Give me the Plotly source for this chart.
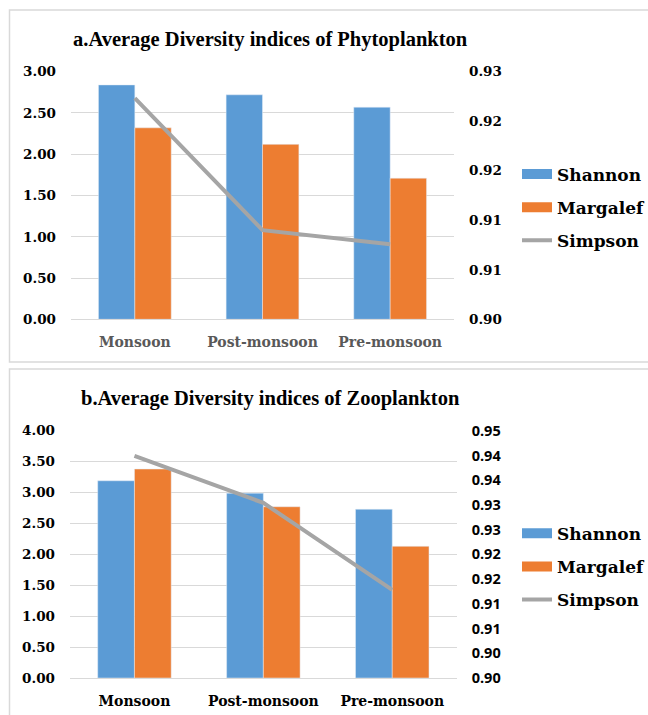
import plotly.graph_objects as go

seasons = ["Monsoon", "Post-monsoon", "Pre-monsoon"]

phyto_shannon = [2.84, 2.72, 2.57]
phyto_margalef = [2.32, 2.12, 1.71]
phyto_simpson = [0.9268, 0.9108, 0.9091]

zoo_shannon = [3.19, 2.99, 2.73]
zoo_margalef = [3.38, 2.77, 2.13]
zoo_simpson = [0.9449, 0.9354, 0.9178]

phyto_simpson_tickvals = [0.900, 0.906, 0.912, 0.918, 0.924, 0.930]
phyto_simpson_ticktext = ["0.90", "0.91", "0.91", "0.92", "0.92", "0.93"]
zoo_simpson_tickvals = [0.900, 0.905, 0.910, 0.915, 0.920, 0.925, 0.930, 0.935, 0.940, 0.945, 0.950]
zoo_simpson_ticktext = ["0.90", "0.90", "0.91", "0.91", "0.92", "0.92", "0.93", "0.93", "0.94", "0.94", "0.95"]

titles = ["a.Average Diversity indices of Phytoplankton", "b.Average Diversity indices of Zooplankton"]

BLUE = "#5B9BD5"
ORANGE = "#ED7D31"
GREY = "#A5A5A5"
GRID = "#D9D9D9"

W, H = 648, 715
SERIF = "DejaVu Serif"


def px(x):
    return x / W


def py(y):
    return 1 - y / H


fig = go.Figure()

panels = [
    dict(sh=phyto_shannon, mg=phyto_margalef, si=phyto_simpson, x="x", y="y", y2="y2", legend="legend"),
    dict(sh=zoo_shannon, mg=zoo_margalef, si=zoo_simpson, x="x2", y="y3", y2="y4", legend="legend2"),
]

for i, p in enumerate(panels):
    fig.add_trace(go.Bar(x=seasons, y=p["sh"], name="Shannon", marker_color=BLUE,
                         xaxis=p["x"], yaxis=p["y"], showlegend=False, offsetgroup="s"))
    fig.add_trace(go.Bar(x=seasons, y=p["mg"], name="Margalef", marker_color=ORANGE,
                         xaxis=p["x"], yaxis=p["y"], showlegend=False, offsetgroup="m"))
    fig.add_trace(go.Scatter(x=seasons, y=p["si"], name="Simpson", mode="lines",
                             line=dict(color=GREY, width=4), xaxis=p["x"], yaxis=p["y2"],
                             showlegend=False))
    # legend entries (wide swatches like the original)
    for name, col, w in [("Shannon", BLUE, 12), ("Margalef", ORANGE, 12), ("Simpson", GREY, 4)]:
        fig.add_trace(go.Scatter(x=[None], y=[None], name=name, mode="lines",
                                 line=dict(color=col, width=w), xaxis=p["x"], yaxis=p["y"],
                                 legend=p["legend"], legendgroup=name + str(i), showlegend=True))

tickfont = dict(family=SERIF, size=13.5, color="#000000", weight="bold")
xtickfont_top = dict(family=SERIF, size=14, color="#595959", weight="bold")
xtickfont_bot = dict(family=SERIF, size=14, color="#000000", weight="bold")
legfont = dict(family=SERIF, size=17, color="#000000", weight="bold")

common_x = dict(type="category", showgrid=False, showline=True, linecolor=GRID, linewidth=1,
                ticks="", ticklabelstandoff=10, fixedrange=True, automargin=False)
common_y = dict(showgrid=True, gridcolor=GRID, gridwidth=1, zeroline=False, ticks="",
                tickformat=".2f", ticklabelstandoff=14, showline=False, automargin=False)

fig.update_layout(
    width=W, height=H,
    autosize=False,
    margin=dict(l=0, r=0, t=0, b=0, pad=0, autoexpand=False),
    paper_bgcolor="white", plot_bgcolor="white",
    barmode="group", bargap=0.43, bargroupgap=0,
    xaxis=dict(common_x, domain=[px(71), px(454)], anchor="y", tickfont=xtickfont_top),
    yaxis=dict(common_y, domain=[py(319.3), py(71.7)], range=[0, 3], dtick=0.5, anchor="x",
               tickfont=tickfont),
    yaxis2=dict(overlaying="y", side="right", anchor="x", range=[0.90, 0.93], showgrid=False,
                zeroline=False, ticks="", tickmode="array", tickvals=phyto_simpson_tickvals,
                ticktext=phyto_simpson_ticktext, ticklabelstandoff=14, tickfont=tickfont,
                automargin=False),
    xaxis2=dict(common_x, domain=[px(70), px(456.7)], anchor="y3", tickfont=xtickfont_bot),
    yaxis3=dict(common_y, domain=[py(678), py(430.7)], range=[0, 4], dtick=0.5, anchor="x2",
                tickfont=tickfont),
    yaxis4=dict(overlaying="y3", side="right", anchor="x2", range=[0.90, 0.95], showgrid=False,
                zeroline=False, ticks="", tickmode="array", tickvals=zoo_simpson_tickvals,
                ticktext=zoo_simpson_ticktext, ticklabelstandoff=14, automargin=False,
                tickfont=dict(family="Open Sans", size=14.5, color="#000000", weight="bold")),
    legend=dict(x=px(517), y=py(207.5), xanchor="left", yanchor="middle", font=legfont,
                tracegroupgap=8, bgcolor="rgba(0,0,0,0)"),
    legend2=dict(x=px(517), y=py(566.8), xanchor="left", yanchor="middle", font=legfont,
                 tracegroupgap=8, bgcolor="rgba(0,0,0,0)"),
    showlegend=True,
)

# panel frames (open on the right, where the original is cut off)
for top, bottom in [(10, 362), (369, None)]:
    x0, x1 = px(9.5), 1.05
    y1 = py(top)
    if bottom is None:
        path = f"M {x0},-0.05 L {x0},{y1} L {x1},{y1}"
    else:
        y0 = py(bottom)
        path = f"M {x1},{y0} L {x0},{y0} L {x0},{y1} L {x1},{y1}"
    fig.add_shape(type="path", xref="paper", yref="paper", path=path,
                  line=dict(color="#D9D9D9", width=1.5), layer="below")

for t, yc in zip(titles, [39, 399]):
    fig.add_annotation(text=t, xref="paper", yref="paper", x=px(270), y=py(yc),
                       xanchor="center", yanchor="middle", showarrow=False,
                       font=dict(family="Liberation Serif", size=20.5, color="#000000", weight="bold"))

fig.write_html(
    "out.html",
    config={"displayModeBar": False},
    post_script="document.body.style.margin='0';document.body.style.overflow='hidden';",
)
